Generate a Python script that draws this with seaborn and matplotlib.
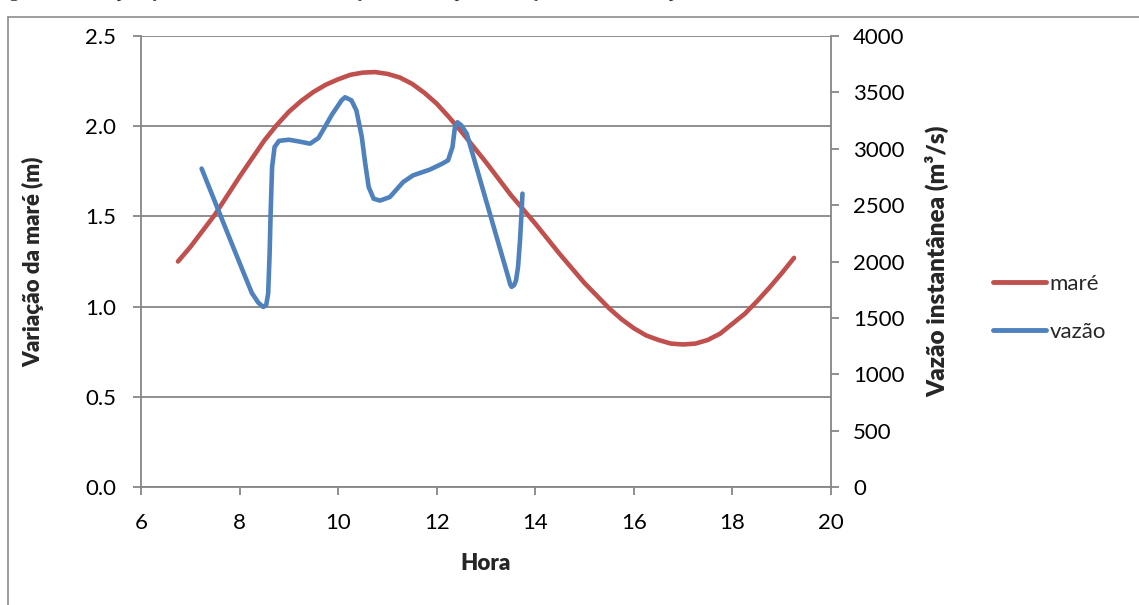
import matplotlib
matplotlib.use("Agg")
import matplotlib.pyplot as plt
import seaborn as sns
import pandas as pd
from matplotlib.lines import Line2D

# ---- data ----
mare_hora = [6.75, 7.0, 7.25, 7.5, 7.75, 8.0, 8.25, 8.5, 8.75, 9.0, 9.25, 9.5, 9.75, 10.0,
             10.25, 10.5, 10.75, 11.0, 11.25, 11.5, 11.75, 12.0, 12.25, 12.5, 12.75, 13.0,
             13.25, 13.5, 13.75, 14.0, 14.25, 14.5, 14.75, 15.0, 15.25, 15.5, 15.75, 16.0,
             16.25, 16.5, 16.75, 17.0, 17.25, 17.5, 17.75, 18.0, 18.25, 18.5, 18.75, 19.0, 19.25]
mare_valor = [1.25, 1.33, 1.42, 1.51, 1.615, 1.72, 1.82, 1.92, 2.005, 2.08, 2.14, 2.19, 2.23, 2.26,
              2.285, 2.297, 2.30, 2.29, 2.27, 2.235, 2.185, 2.125, 2.05, 1.97, 1.885, 1.80,
              1.71, 1.62, 1.54, 1.46, 1.375, 1.29, 1.21, 1.13, 1.06, 0.99, 0.93, 0.88,
              0.84, 0.815, 0.795, 0.79, 0.795, 0.815, 0.85, 0.905, 0.96, 1.03, 1.105, 1.185, 1.27]

vazao_hora = [7.23, 7.5, 7.8, 8.1, 8.25, 8.38, 8.48, 8.54, 8.58, 8.61, 8.63, 8.66, 8.71,
              8.8, 9.0, 9.2, 9.43, 9.6, 9.73, 9.87, 10.0, 10.07, 10.14, 10.27, 10.37, 10.48,
              10.55, 10.62, 10.72, 10.85, 11.05, 11.32, 11.52, 11.86, 12.1, 12.23, 12.32,
              12.37, 12.42, 12.5, 12.61, 12.8, 13.0, 13.2, 13.45, 13.49, 13.52, 13.57, 13.61,
              13.65, 13.69, 13.72, 13.74]
vazao_valor = [2824, 2530, 2204, 1880, 1720, 1635, 1597, 1613, 1716, 2073, 2427, 2838, 3015,
               3070, 3080, 3065, 3045, 3095, 3192, 3300, 3384, 3430, 3457, 3429, 3340, 3104,
               2867, 2660, 2557, 2540, 2572, 2705, 2764, 2815, 2865, 2897, 3015,
               3192, 3235, 3207, 3133, 2846, 2543, 2241, 1863, 1798, 1775, 1790, 1834,
               1951, 2188, 2424, 2602]

x_ticks = [6, 8, 10, 12, 14, 16, 18, 20]
left_ticks = [0.0, 0.5, 1.0, 1.5, 2.0, 2.5]
right_ticks = [0, 500, 1000, 1500, 2000, 2500, 3000, 3500, 4000]

df_mare = pd.DataFrame({"Hora": mare_hora, "valor": mare_valor})
df_vazao = pd.DataFrame({"Hora": vazao_hora, "valor": vazao_valor})

sns.set_style("white")
plt.rcParams["font.family"] = ["Lato", "DejaVu Sans"]

RED = "#C0504D"
BLUE = "#4F81BD"
GRID = "#868686"
FS = 16

fig = plt.figure(figsize=(11.39, 6.05), dpi=100)
ax = fig.add_axes([141 / 1139, 1 - 487 / 605, (831 - 141) / 1139, (487 - 36) / 605])
ax2 = ax.twinx()

sns.lineplot(data=df_mare, x="Hora", y="valor", ax=ax, color=RED, linewidth=3.3,
             sort=False, solid_capstyle="round", solid_joinstyle="round", legend=False)
sns.lineplot(data=df_vazao, x="Hora", y="valor", ax=ax2, color=BLUE, linewidth=3.3,
             sort=False, solid_capstyle="round", solid_joinstyle="round", legend=False)

ax.set_xlim(6, 20)
ax.set_ylim(0, 2.5)
ax2.set_ylim(0, 4000)
ax.set_xticks(x_ticks)
ax.set_yticks(left_ticks)
ax2.set_yticks(right_ticks)
ax.set_xticklabels([str(t) for t in x_ticks])
ax.set_yticklabels([f"{t:.1f}" for t in left_ticks])
ax2.set_yticklabels([str(t) for t in right_ticks])

ax.yaxis.grid(True, color=GRID, linewidth=1.3)
ax.xaxis.grid(False)
ax2.grid(False)
ax.set_axisbelow(True)

for a in (ax, ax2):
    for s in a.spines.values():
        s.set_color(GRID)
        s.set_linewidth(1.3)
    a.spines["top"].set_visible(False)
ax.spines["right"].set_visible(False)
ax2.spines["left"].set_visible(False)
ax2.spines["bottom"].set_visible(False)

ax.tick_params(axis="both", which="major", direction="out", length=6, width=1.3,
               color=GRID, labelsize=FS, labelcolor="black")
ax.tick_params(axis="y", left=True, pad=12)
ax.tick_params(axis="x", bottom=True, pad=13)
ax2.tick_params(axis="y", right=True, direction="out", length=6, width=1.3,
                color=GRID, labelsize=FS, labelcolor="black", pad=10)

ax.set_xlabel("Hora", fontsize=FS, fontweight="heavy")
ax.set_ylabel("Variação da maré (m)", fontsize=FS, fontweight="heavy")
ax2.set_ylabel("Vazão instantânea (m³/s)", fontsize=17.5, fontweight="heavy")
ax.xaxis.set_label_coords(0.5, -(553 - 487) / 451)
ax.yaxis.set_label_coords((44 - 141) / 690, 0.5)
ax2.yaxis.set_label_coords((925 - 141) / 690, 0.5)

handles = [Line2D([], [], color=RED, linewidth=3.5, solid_capstyle="round"),
           Line2D([], [], color=BLUE, linewidth=3.5, solid_capstyle="round")]
fig.legend(handles, ["maré", "vazão"], loc="center left",
           bbox_to_anchor=(993 / 1139, 1 - 308 / 605), frameon=False,
           fontsize=FS, handlelength=2.4, handletextpad=0.15, labelspacing=1.25,
           borderaxespad=0, borderpad=0)

# chart area border (only the left and top edges are visible)
fig.add_artist(Line2D([8 / 1139, 8 / 1139], [0, 1 - 17 / 605], transform=fig.transFigure,
                      color="#8C8C8C", linewidth=1.2))
fig.add_artist(Line2D([8 / 1139, 1], [1 - 17 / 605, 1 - 17 / 605], transform=fig.transFigure,
                      color="#8C8C8C", linewidth=1.2))

# caption of the page above, mostly clipped at the top edge
fig.text(-0.006, 1 + 3 / 605,
         "Figura 33: Comparação entre a vazão e a variação da maré para a secção Costa na campanha de 31 de maio",
         fontsize=14, family="Liberation Serif", va="baseline", ha="left")

fig.savefig("out.png", dpi=100)
